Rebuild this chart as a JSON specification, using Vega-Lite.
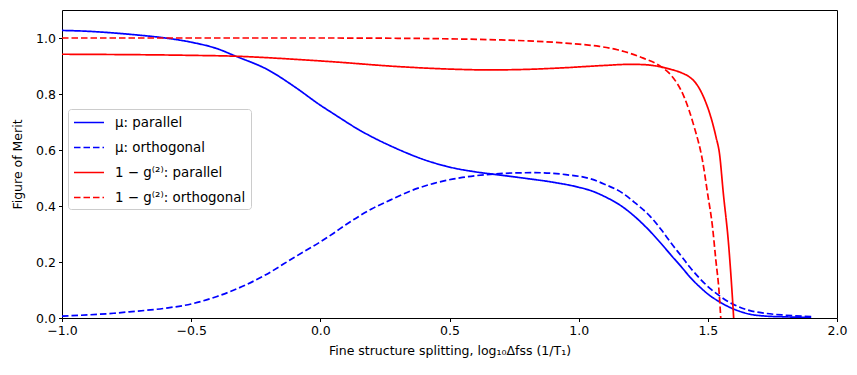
{
  "$schema": "https://vega.github.io/schema/vega-lite/v6.json",
  "autosize": {"type": "none"},
  "width": 775,
  "height": 308,
  "padding": {"left": 62, "top": 10, "right": 20, "bottom": 57},
  "background": "white",
  "config": {
    "font": "DejaVu Sans",
    "view": {"stroke": "black", "strokeWidth": 1},
    "axis": {"grid": false, "domain": false, "labelFlush": false, "tickColor": "black", "tickSize": 3.5, "labelFontSize": 12.5, "labelColor": "black", "titleFontSize": 12.5, "titleFontWeight": "normal", "titleColor": "black", "labelPadding": 3}
  },
  "data": {"values": [
    {"x": -1.0, "y": 1.027, "s": "μ: parallel"},
    {"x": -0.9, "y": 1.024, "s": "μ: parallel"},
    {"x": -0.8, "y": 1.018, "s": "μ: parallel"},
    {"x": -0.7, "y": 1.01, "s": "μ: parallel"},
    {"x": -0.6, "y": 1.0, "s": "μ: parallel"},
    {"x": -0.5, "y": 0.985, "s": "μ: parallel"},
    {"x": -0.4, "y": 0.962, "s": "μ: parallel"},
    {"x": -0.33, "y": 0.936, "s": "μ: parallel"},
    {"x": -0.2, "y": 0.885, "s": "μ: parallel"},
    {"x": -0.1, "y": 0.826, "s": "μ: parallel"},
    {"x": 0.0, "y": 0.76, "s": "μ: parallel"},
    {"x": 0.05, "y": 0.73, "s": "μ: parallel"},
    {"x": 0.15, "y": 0.672, "s": "μ: parallel"},
    {"x": 0.3, "y": 0.603, "s": "μ: parallel"},
    {"x": 0.4, "y": 0.566, "s": "μ: parallel"},
    {"x": 0.5, "y": 0.539, "s": "μ: parallel"},
    {"x": 0.6, "y": 0.522, "s": "μ: parallel"},
    {"x": 0.7, "y": 0.51, "s": "μ: parallel"},
    {"x": 0.8, "y": 0.498, "s": "μ: parallel"},
    {"x": 0.9, "y": 0.485, "s": "μ: parallel"},
    {"x": 1.0, "y": 0.467, "s": "μ: parallel"},
    {"x": 1.05, "y": 0.454, "s": "μ: parallel"},
    {"x": 1.1, "y": 0.434, "s": "μ: parallel"},
    {"x": 1.17, "y": 0.397, "s": "μ: parallel"},
    {"x": 1.22, "y": 0.36, "s": "μ: parallel"},
    {"x": 1.275, "y": 0.311, "s": "μ: parallel"},
    {"x": 1.32, "y": 0.265, "s": "μ: parallel"},
    {"x": 1.36, "y": 0.222, "s": "μ: parallel"},
    {"x": 1.4, "y": 0.18, "s": "μ: parallel"},
    {"x": 1.43, "y": 0.147, "s": "μ: parallel"},
    {"x": 1.47, "y": 0.11, "s": "μ: parallel"},
    {"x": 1.508, "y": 0.08, "s": "μ: parallel"},
    {"x": 1.547, "y": 0.057, "s": "μ: parallel"},
    {"x": 1.585, "y": 0.038, "s": "μ: parallel"},
    {"x": 1.62, "y": 0.025, "s": "μ: parallel"},
    {"x": 1.66, "y": 0.014, "s": "μ: parallel"},
    {"x": 1.72, "y": 0.007, "s": "μ: parallel"},
    {"x": 1.8, "y": 0.004, "s": "μ: parallel"},
    {"x": 1.9, "y": 0.002, "s": "μ: parallel"},

    {"x": -1.0, "y": 0.007, "s": "μ: orthogonal"},
    {"x": -0.9, "y": 0.011, "s": "μ: orthogonal"},
    {"x": -0.8, "y": 0.017, "s": "μ: orthogonal"},
    {"x": -0.74, "y": 0.022, "s": "μ: orthogonal"},
    {"x": -0.6, "y": 0.035, "s": "μ: orthogonal"},
    {"x": -0.5, "y": 0.05, "s": "μ: orthogonal"},
    {"x": -0.4, "y": 0.077, "s": "μ: orthogonal"},
    {"x": -0.35, "y": 0.094, "s": "μ: orthogonal"},
    {"x": -0.22, "y": 0.15, "s": "μ: orthogonal"},
    {"x": -0.1, "y": 0.217, "s": "μ: orthogonal"},
    {"x": 0.0, "y": 0.272, "s": "μ: orthogonal"},
    {"x": 0.05, "y": 0.302, "s": "μ: orthogonal"},
    {"x": 0.1, "y": 0.334, "s": "μ: orthogonal"},
    {"x": 0.2, "y": 0.39, "s": "μ: orthogonal"},
    {"x": 0.27, "y": 0.421, "s": "μ: orthogonal"},
    {"x": 0.35, "y": 0.454, "s": "μ: orthogonal"},
    {"x": 0.44, "y": 0.481, "s": "μ: orthogonal"},
    {"x": 0.55, "y": 0.502, "s": "μ: orthogonal"},
    {"x": 0.67, "y": 0.514, "s": "μ: orthogonal"},
    {"x": 0.75, "y": 0.518, "s": "μ: orthogonal"},
    {"x": 0.83, "y": 0.519, "s": "μ: orthogonal"},
    {"x": 0.95, "y": 0.512, "s": "μ: orthogonal"},
    {"x": 1.05, "y": 0.496, "s": "μ: orthogonal"},
    {"x": 1.1, "y": 0.478, "s": "μ: orthogonal"},
    {"x": 1.17, "y": 0.446, "s": "μ: orthogonal"},
    {"x": 1.22, "y": 0.41, "s": "μ: orthogonal"},
    {"x": 1.275, "y": 0.365, "s": "μ: orthogonal"},
    {"x": 1.32, "y": 0.315, "s": "μ: orthogonal"},
    {"x": 1.36, "y": 0.265, "s": "μ: orthogonal"},
    {"x": 1.4, "y": 0.218, "s": "μ: orthogonal"},
    {"x": 1.43, "y": 0.182, "s": "μ: orthogonal"},
    {"x": 1.47, "y": 0.14, "s": "μ: orthogonal"},
    {"x": 1.508, "y": 0.106, "s": "μ: orthogonal"},
    {"x": 1.547, "y": 0.078, "s": "μ: orthogonal"},
    {"x": 1.585, "y": 0.055, "s": "μ: orthogonal"},
    {"x": 1.62, "y": 0.04, "s": "μ: orthogonal"},
    {"x": 1.66, "y": 0.027, "s": "μ: orthogonal"},
    {"x": 1.72, "y": 0.017, "s": "μ: orthogonal"},
    {"x": 1.8, "y": 0.01, "s": "μ: orthogonal"},
    {"x": 1.9, "y": 0.005, "s": "μ: orthogonal"},

    {"x": -1.0, "y": 0.942, "s": "1 − g⁽²⁾: parallel"},
    {"x": -0.5, "y": 0.938, "s": "1 − g⁽²⁾: parallel"},
    {"x": -0.33, "y": 0.935, "s": "1 − g⁽²⁾: parallel"},
    {"x": -0.1, "y": 0.924, "s": "1 − g⁽²⁾: parallel"},
    {"x": 0.05, "y": 0.915, "s": "1 − g⁽²⁾: parallel"},
    {"x": 0.3, "y": 0.898, "s": "1 − g⁽²⁾: parallel"},
    {"x": 0.5, "y": 0.889, "s": "1 − g⁽²⁾: parallel"},
    {"x": 0.65, "y": 0.886, "s": "1 − g⁽²⁾: parallel"},
    {"x": 0.8, "y": 0.888, "s": "1 − g⁽²⁾: parallel"},
    {"x": 0.95, "y": 0.894, "s": "1 − g⁽²⁾: parallel"},
    {"x": 1.1, "y": 0.902, "s": "1 − g⁽²⁾: parallel"},
    {"x": 1.2, "y": 0.906, "s": "1 − g⁽²⁾: parallel"},
    {"x": 1.25, "y": 0.905, "s": "1 − g⁽²⁾: parallel"},
    {"x": 1.3, "y": 0.9, "s": "1 − g⁽²⁾: parallel"},
    {"x": 1.357, "y": 0.888, "s": "1 − g⁽²⁾: parallel"},
    {"x": 1.4, "y": 0.875, "s": "1 − g⁽²⁾: parallel"},
    {"x": 1.43, "y": 0.86, "s": "1 − g⁽²⁾: parallel"},
    {"x": 1.45, "y": 0.843, "s": "1 − g⁽²⁾: parallel"},
    {"x": 1.47, "y": 0.815, "s": "1 − g⁽²⁾: parallel"},
    {"x": 1.49, "y": 0.775, "s": "1 − g⁽²⁾: parallel"},
    {"x": 1.505, "y": 0.737, "s": "1 − g⁽²⁾: parallel"},
    {"x": 1.518, "y": 0.697, "s": "1 − g⁽²⁾: parallel"},
    {"x": 1.532, "y": 0.645, "s": "1 − g⁽²⁾: parallel"},
    {"x": 1.545, "y": 0.588, "s": "1 − g⁽²⁾: parallel"},
    {"x": 1.56, "y": 0.445, "s": "1 − g⁽²⁾: parallel"},
    {"x": 1.58, "y": 0.267, "s": "1 − g⁽²⁾: parallel"},
    {"x": 1.594, "y": 0.089, "s": "1 − g⁽²⁾: parallel"},
    {"x": 1.6, "y": 0.0, "s": "1 − g⁽²⁾: parallel"},

    {"x": -1.0, "y": 1.0, "s": "1 − g⁽²⁾: orthogonal"},
    {"x": -0.5, "y": 1.0, "s": "1 − g⁽²⁾: orthogonal"},
    {"x": 0.0, "y": 1.0, "s": "1 − g⁽²⁾: orthogonal"},
    {"x": 0.3, "y": 0.999, "s": "1 − g⁽²⁾: orthogonal"},
    {"x": 0.5, "y": 0.997, "s": "1 − g⁽²⁾: orthogonal"},
    {"x": 0.7, "y": 0.993, "s": "1 − g⁽²⁾: orthogonal"},
    {"x": 0.9, "y": 0.985, "s": "1 − g⁽²⁾: orthogonal"},
    {"x": 1.0, "y": 0.978, "s": "1 − g⁽²⁾: orthogonal"},
    {"x": 1.08, "y": 0.97, "s": "1 − g⁽²⁾: orthogonal"},
    {"x": 1.15, "y": 0.958, "s": "1 − g⁽²⁾: orthogonal"},
    {"x": 1.2, "y": 0.945, "s": "1 − g⁽²⁾: orthogonal"},
    {"x": 1.25, "y": 0.928, "s": "1 − g⁽²⁾: orthogonal"},
    {"x": 1.32, "y": 0.897, "s": "1 − g⁽²⁾: orthogonal"},
    {"x": 1.357, "y": 0.868, "s": "1 − g⁽²⁾: orthogonal"},
    {"x": 1.408, "y": 0.79, "s": "1 − g⁽²⁾: orthogonal"},
    {"x": 1.447, "y": 0.683, "s": "1 − g⁽²⁾: orthogonal"},
    {"x": 1.479, "y": 0.564, "s": "1 − g⁽²⁾: orthogonal"},
    {"x": 1.499, "y": 0.445, "s": "1 − g⁽²⁾: orthogonal"},
    {"x": 1.518, "y": 0.326, "s": "1 − g⁽²⁾: orthogonal"},
    {"x": 1.531, "y": 0.207, "s": "1 − g⁽²⁾: orthogonal"},
    {"x": 1.544, "y": 0.088, "s": "1 − g⁽²⁾: orthogonal"},
    {"x": 1.55, "y": 0.0, "s": "1 − g⁽²⁾: orthogonal"}
  ]},
  "mark": {"type": "line", "strokeWidth": 1.7, "clip": true, "interpolate": "monotone"},
  "encoding": {
    "x": {"field": "x", "type": "quantitative",
      "scale": {"domain": [-1, 2], "nice": false, "zero": false},
      "axis": {"values": [-1, -0.5, 0, 0.5, 1, 1.5, 2], "format": ".1f", "title": "Fine structure splitting, log₁₀Δfss (1/T₁)", "titlePadding": 7}},
    "y": {"field": "y", "type": "quantitative",
      "scale": {"domain": [0, 1.1], "nice": false},
      "axis": {"values": [0, 0.2, 0.4, 0.6, 0.8, 1.0], "format": ".1f", "title": "Figure of Merit", "titlePadding": 11}},
    "color": {"field": "s", "type": "nominal",
      "scale": {"domain": ["μ: parallel", "μ: orthogonal", "1 − g⁽²⁾: parallel", "1 − g⁽²⁾: orthogonal"], "range": ["#0000ff", "#0000ff", "#ff0000", "#ff0000"]},
      "legend": {"title": null, "orient": "none", "legendX": 6, "legendY": 99, "fillColor": "white", "strokeColor": "#cccccc", "cornerRadius": 3, "padding": 5, "symbolType": "M-2,0H2", "symbolSize": 225, "symbolOffset": 7.5, "symbolStrokeWidth": 1.7, "labelFontSize": 13.4, "labelColor": "black", "rowPadding": 10, "labelOffset": 17.5}},
    "strokeDash": {"field": "s", "type": "nominal",
      "scale": {"domain": ["μ: parallel", "μ: orthogonal", "1 − g⁽²⁾: parallel", "1 − g⁽²⁾: orthogonal"], "range": [[1, 0], [6.5, 3], [1, 0], [6.5, 3]]},
      "legend": null},
    "detail": {"field": "s"}
  }
}
